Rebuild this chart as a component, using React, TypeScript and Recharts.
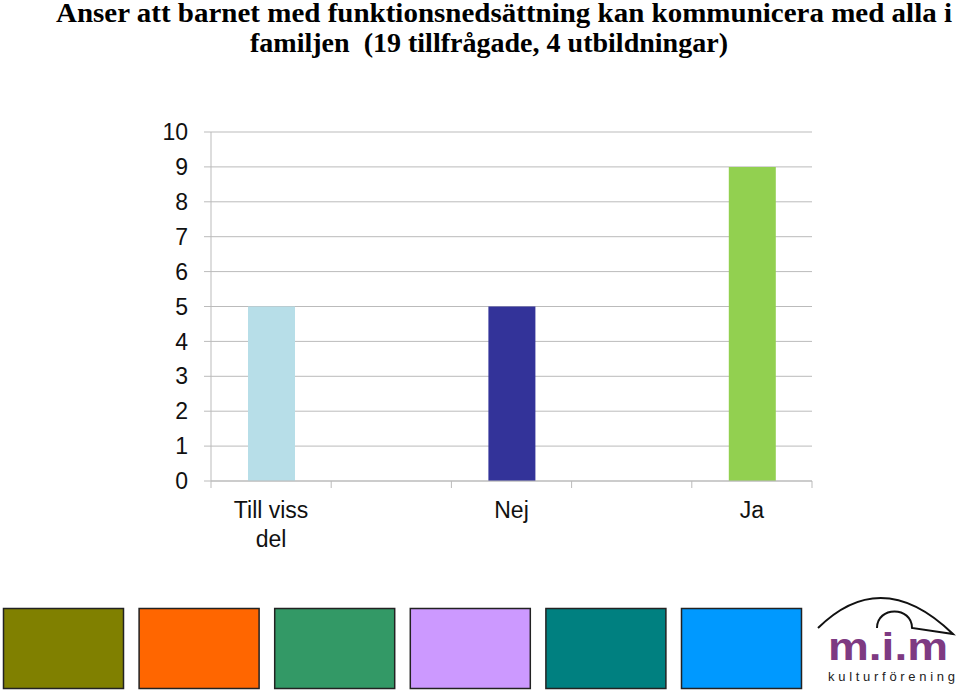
import { Bar, BarChart, CartesianGrid, Cell, Text, XAxis, YAxis } from "recharts";

const categories = ["Till viss del", "", "Nej", "", "Ja"];
const answers = [5, null, 5, null, 9];
const barColors = ["#B7DEE8", "#ffffff", "#333399", "#ffffff", "#92D050"];
const yTicks = [0, 1, 2, 3, 4, 5, 6, 7, 8, 9, 10];
const titleLines = [
  "Anser att barnet med funktionsnedsättning kan kommunicera med alla i",
  "familjen  (19 tillfrågade, 4 utbildningar)",
];
const swatchColors = ["#808000", "#FF6600", "#339966", "#CC99FF", "#008080", "#0099FF"];

const data = categories.map((name, i) => ({ name, value: answers[i] }));

const grid = "#BBBBBB";
const sans = "'Liberation Sans', Arial, sans-serif";
const serif = "'Liberation Serif', 'Times New Roman', serif";
const labelGap = 21;

// category label plus the small tick marks that sit on the band edges
function CatTick(props: any) {
  const { x, y, payload, index, visibleTicksCount } = props;
  const half = payload.offset || 0;
  const top = y - labelGap;
  const last = index === visibleTicksCount - 1;
  return (
    <g>
      <line x1={x - half} x2={x - half} y1={top} y2={top + 7} stroke={grid} />
      {last && <line x1={x + half} x2={x + half} y1={top} y2={top + 7} stroke={grid} />}
      {payload.value ? (
        <Text
          x={x}
          y={y}
          width={70}
          textAnchor="middle"
          verticalAnchor="start"
          lineHeight={29}
          fontSize={23}
          fontFamily={sans}
          fill="#111"
        >
          {payload.value}
        </Text>
      ) : null}
    </g>
  );
}

export default function App() {
  return (
    <div style={{ position: "absolute", left: 0, top: 0, width: 959, height: 692, background: "#fff" }}>
      <BarChart
        width={959}
        height={692}
        data={data}
        margin={{ top: 132, right: 147, left: 151, bottom: 131 }}
        style={{ position: "absolute", left: 0, top: 0 }}
      >
        <CartesianGrid stroke={grid} vertical={false} />
        <XAxis
          dataKey="name"
          height={80}
          stroke={grid}
          tickLine={false}
          tickSize={0}
          tickMargin={labelGap}
          interval={0}
          tick={<CatTick />}
        />
        <YAxis
          width={60}
          domain={[0, 10]}
          ticks={yTicks}
          interval={0}
          tickSize={7}
          tickMargin={16}
          stroke={grid}
          tick={{ fontSize: 23, fontFamily: sans, fill: "#111" }}
        />
        <Bar dataKey="value" barSize={47} isAnimationActive={false}>
          {data.map((_, i) => (
            <Cell key={i} fill={barColors[i]} />
          ))}
        </Bar>
      </BarChart>
      <svg
        width={959}
        height={692}
        style={{ position: "absolute", left: 0, top: 0, pointerEvents: "none" }}
      >
        <text
          x={56}
          y={22}
          fontFamily={serif}
          fontWeight="bold"
          fontSize={26.5}
          fill="#000"
          textLength={896}
          lengthAdjust="spacingAndGlyphs"
          style={{ whiteSpace: "pre" }}
        >
          {titleLines[0]}
        </text>
        <text
          x={250}
          y={51.5}
          fontFamily={serif}
          fontWeight="bold"
          fontSize={27}
          fill="#000"
          textLength={478}
          lengthAdjust="spacingAndGlyphs"
          style={{ whiteSpace: "pre" }}
        >
          {titleLines[1]}
        </text>
        {swatchColors.map((c, i) => (
          <rect
            key={c}
            x={3.5 + i * 135.6}
            y={608.5}
            width={120}
            height={80}
            fill={c}
            stroke="#222"
            strokeWidth={1.5}
          />
        ))}
        <path
          d="M818,628 Q882,565 953,634 L912,628 C912,606 877,606 877,628"
          fill="none"
          stroke="#111"
          strokeWidth={2}
        />
        <text
          x={828}
          y={660}
          fontFamily={sans}
          fontWeight="bold"
          fontSize={38}
          fill="#7E3A82"
          textLength={120}
          lengthAdjust="spacingAndGlyphs"
        >
          m.i.m
        </text>
        <text
          x={828}
          y={681}
          fontFamily={sans}
          fontSize={13}
          fill="#222"
          textLength={127}
          lengthAdjust="spacing"
        >
          kulturförening
        </text>
      </svg>
    </div>
  );
}
